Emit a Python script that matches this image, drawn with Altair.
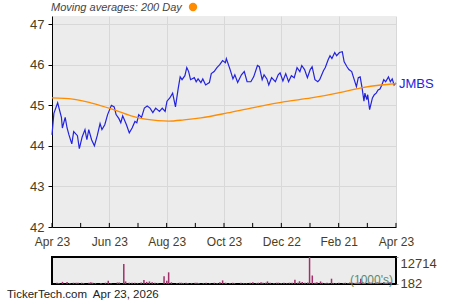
import json
import altair as alt
import pandas as pd

# ---------------- data ----------------
price_day = [0, 2, 6, 10, 11, 14, 16, 18, 21, 23, 27, 29, 32, 35, 37, 39, 42, 45, 48, 51,
             53, 56, 59, 63, 66, 68, 71, 73, 75, 79, 82, 85, 88, 90, 92, 95, 98, 101, 104, 107,
             110, 114, 117, 120, 122, 125, 128, 131, 134, 136, 138, 141, 143, 145, 147, 151, 153, 155, 158, 160,
             163, 167, 169, 172, 175, 178, 181, 184,
             185, 189, 192, 194, 197, 201, 204, 207, 211, 214, 218, 220, 223, 225, 228, 230, 233, 237, 240, 242,
             245, 248, 251, 254, 257, 260, 263, 265, 268, 271, 274, 276, 279, 282, 284, 288, 290, 293, 295, 297,
             300, 302, 305, 308, 310, 313, 315, 318, 320, 323, 325, 327, 329, 331, 332, 334, 335, 337, 340, 342,
             344, 346, 348, 350, 352, 354, 357, 359, 361, 363, 365]

price = [44.27, 44.8, 45.06, 44.7, 44.44, 44.7, 44.44, 44.27, 44.05, 44.35, 44.25, 43.93, 44.22, 44.4, 44.15, 44.4, 44.15, 44.0, 44.25, 44.55,
         44.4, 44.52, 44.77, 45.0, 44.96, 44.77, 44.67, 44.57, 44.74, 44.52, 44.32, 44.44, 44.6, 44.57, 44.77, 44.7, 44.93, 44.98, 44.93, 44.82,
         44.93, 44.85, 44.93, 44.85, 45.1, 45.18, 45.3, 44.96, 45.43, 45.7, 45.63, 45.73, 45.93, 45.83, 45.63, 45.68, 45.58, 45.65, 45.56, 45.65,
         45.5, 45.56, 45.78, 45.83, 45.93, 46.0, 46.1, 46.05,
         46.15, 45.88, 45.65, 45.75, 45.56, 45.75, 45.83, 45.58, 45.58, 45.7, 45.98, 45.95, 45.63, 45.75, 45.65, 45.5, 45.68, 45.58, 45.75, 45.8,
         45.6, 45.78, 45.58, 45.73, 45.68, 45.93, 45.83, 45.98, 45.88, 45.68, 45.88, 45.95, 45.63, 45.58, 45.63, 45.85, 45.93, 46.12, 46.22, 46.15,
         46.3, 46.22, 46.3, 46.32, 46.07, 45.95, 45.88, 45.83, 45.68, 45.46, 45.68, 45.7, 45.43, 45.1, 45.3, 45.14, 45.26, 44.89, 45.18, 45.26,
         45.3, 45.38, 45.4, 45.5, 45.63, 45.58, 45.7, 45.58, 45.65, 45.5, 45.55]

volume = [600, 500, 1000, 0, 1000, 500, 0, 600, 600, 600, 600, 500, 0, 600, 800, 600, 500, 0, 500, 0,
          600, 1500, 400, 0, 700, 700, 0, 9400, 1200, 600, 600, 600, 500, 0, 700, 1900, 1000, 1200, 800, 600,
          500, 0, 3600, 1500, 5500, 800, 0, 500, 600, 600, 500, 600, 500, 0, 500, 600, 600, 500, 0, 500,
          600, 500, 0, 600, 500, 800, 1700, 600,
          500, 500, 600, 500, 0, 600, 500, 500, 600, 800, 500, 600, 800, 600, 600, 1200, 600, 500, 600, 600,
          500, 600, 500, 600, 600, 2000, 600, 1300, 1000, 600, 700, 12714, 4000, 600, 800, 1200, 600, 500, 600, 500,
          2500, 500, 500, 600, 0, 500, 600, 500, 700, 600, 500, 600, 600, 800, 2500, 800, 600, 500, 600, 700,
          600, 500, 600, 800, 700, 600, 900, 600, 700, 800, 1000]

ma_day = [0, 22, 41, 63, 84, 101, 124, 140, 158, 186, 211, 247, 275, 309, 328, 349, 365]
ma = [45.18, 45.15, 45.06, 44.91, 44.74, 44.65, 44.61, 44.64, 44.69, 44.81, 44.93, 45.09, 45.18, 45.33, 45.43, 45.5, 45.53]

x_labels = ["Apr 23", "Jun 23", "Aug 23", "Oct 23", "Dec 22", "Feb 21", "Apr 23"]
x_major = [0, 60.83, 121.67, 182.5, 243.33, 304.17, 365]
x_all_ticks = [0, 30.42, 60.83, 91.25, 121.67, 152.08, 182.5, 212.92, 243.33, 273.75, 304.17, 334.58, 365]
y_ticks = [42, 42.5, 43, 43.5, 44, 44.5, 45, 45.5, 46, 46.5, 47]
vol_ticks = [182, 12714]
ticker = "JMBS"
title_text = "Moving averages: 200 Day"
footer_text = "TickerTech.com\u00a0 Apr 23, 2026"
unit_text = "(1000's)"

# ---------------- styling ----------------
BG = "#ececec"
GRID = "#d8d8d8"
LABEL = "#4b3d20"
FONT = "Liberation Sans"
BLUE = "#2323dd"
ORANGE = "#ff8c00"

price_df = pd.DataFrame({"day": price_day, "price": price, "volume": volume})
ma_df = pd.DataFrame({"day": ma_day, "ma": ma})
tick_df = pd.DataFrame({"d": x_all_ticks})
last_df = pd.DataFrame({"day": [price_day[-1]], "price": [price[-1]], "label": [ticker]})

xscale = alt.Scale(domain=[0, 365], nice=False, zero=False)
yscale = alt.Scale(domain=[42, 47.2], nice=False, zero=False)

label_expr = json.dumps(x_labels) + "[round(datum.value / 60.8333)]"

x_axis = alt.Axis(values=x_major, labelExpr=label_expr, grid=True, gridColor=GRID,
                  ticks=False, domainColor="black", domainWidth=1, labelColor=LABEL,
                  labelFont=FONT, labelFontSize=12, labelPadding=9, labelFlush=False, title=None)
y_axis = alt.Axis(values=y_ticks, labelExpr="datum.value % 1 === 0 ? datum.label : ''",
                  grid=True, gridColor=GRID,
                  gridOpacity={"condition": {"test": "datum.value % 1 === 0", "value": 1}, "value": 0},
                  tickSize=4, tickColor="black", domainColor="black", domainWidth=1,
                  labelColor=LABEL, labelFont=FONT, labelFontSize=13, labelPadding=4, title=None)

price_line = alt.Chart(price_df).mark_line(color=BLUE, strokeWidth=1.2).encode(
    x=alt.X("day:Q", scale=xscale, axis=x_axis),
    y=alt.Y("price:Q", scale=yscale, axis=y_axis),
)
ma_line = alt.Chart(ma_df).mark_line(color=ORANGE, strokeWidth=1.3, interpolate="monotone").encode(
    x=alt.X("day:Q", scale=xscale),
    y=alt.Y("ma:Q", scale=yscale),
)
x_tick_marks = alt.Chart(tick_df).mark_rule(color="black", strokeWidth=1).encode(
    x=alt.X("d:Q", scale=xscale),
    y=alt.datum(42),
    y2=alt.datum(42.1),
)
end_label = alt.Chart(last_df).mark_text(align="left", baseline="middle", dx=3, dy=1,
                                         color=BLUE, font=FONT, fontSize=13).encode(
    x=alt.X("day:Q", scale=xscale),
    y=alt.Y("price:Q", scale=yscale),
    text="label:N",
)
title_mark = alt.Chart(pd.DataFrame({"t": [title_text]})).mark_text(
    align="left", baseline="middle", fontStyle="italic", font=FONT, fontSize=11, color="#444444"
).encode(x=alt.value(-1), y=alt.value(-8), text="t:N")
dot = alt.Chart(pd.DataFrame({"t": [title_text]})).mark_circle(size=70, color=ORANGE, opacity=1).encode(
    x=alt.value(141), y=alt.value(-9)
)

main = alt.layer(price_line, ma_line, x_tick_marks, end_label, title_mark, dot).properties(
    width=344, height=211, view=alt.ViewBackground(fill=BG, strokeWidth=0)
)

vol_bars = alt.Chart(price_df).mark_bar(color="#a0306a", width=1.5).encode(
    x=alt.X("day:Q", scale=xscale, axis=None),
    y=alt.Y("volume:Q", scale=alt.Scale(domain=[0, 12714], nice=False, zero=True),
            axis=alt.Axis(orient="right", values=vol_ticks, format="d", grid=False, domain=False,
                          tickSize=2, tickColor="#999999", labelPadding=2,
                          labelBaseline={"condition": {"test": "datum.value > 1000", "value": "top"}, "value": "middle"},
                          labelColor=LABEL, labelFont=FONT, labelFontSize=13, title=None)),
)
unit_mark = alt.Chart(pd.DataFrame({"t": [unit_text]})).mark_text(
    align="right", baseline="middle", font=FONT, fontSize=12, color="#5b8a6b"
).encode(x=alt.value(341), y=alt.value(23), text="t:N")
footer_mark = alt.Chart(pd.DataFrame({"t": [footer_text]})).mark_text(
    align="left", baseline="middle", font=FONT, fontSize=11.5, color="#222222"
).encode(x=alt.value(-45), y=alt.value(38), text="t:N")

vol = alt.layer(vol_bars, unit_mark, footer_mark).properties(
    width=344, height=27, view=alt.ViewBackground(fill=BG, stroke="black", strokeWidth=2)
)

chart = alt.vconcat(main, vol, spacing=30, bounds="flush").properties(
    padding={"left": 6, "top": 2, "right": 0, "bottom": 0},
    background="white",
)

chart.save("out.html", embed_options={"renderer": "svg", "actions": False})
